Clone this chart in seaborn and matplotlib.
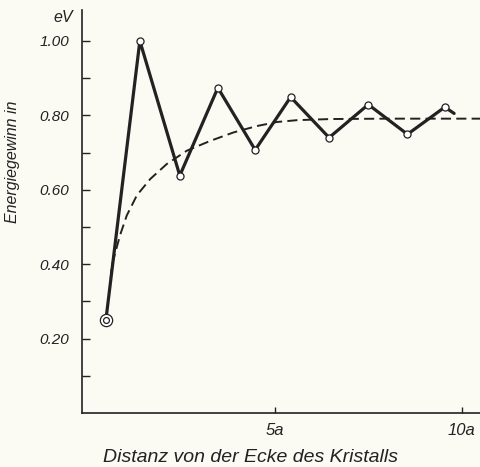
import numpy as np
import pandas as pd
import matplotlib
matplotlib.use("Agg")
import matplotlib.pyplot as plt
import seaborn as sns

# Zigzag data (distance in units of a, energy gain in eV)
dist = [0.47, 1.38, 2.45, 3.47, 4.47, 5.42, 6.45, 7.5, 8.55, 9.55, 9.8]
energy = [0.25, 1.00, 0.638, 0.874, 0.707, 0.849, 0.74, 0.829, 0.749, 0.822, 0.805]
# Dashed smooth curve
curve_x = [0.60, 0.63, 0.85, 1.03, 1.30, 1.66, 2.10, 2.64, 3.26, 3.89, 4.51,
           5.05, 5.6, 6.5, 8.0, 10.52]
curve_y = [0.36, 0.397, 0.478, 0.531, 0.585, 0.629, 0.669, 0.705, 0.731, 0.754,
           0.771, 0.782, 0.787, 0.79, 0.791, 0.791]

ytick_vals = [0.20, 0.40, 0.60, 0.80, 1.00]
ytick_labels = ["0.20", "0.40", "0.60", "0.80", "1.00"]
xtick_vals = [5, 10]
xtick_labels = ["5a", "10a"]

sns.set_theme(style="ticks")
plt.rcParams['font.family'] = ['Liberation Sans', 'DejaVu Sans']

bg = "#fbfaf3"
ink = "#222222"
fig = plt.figure(figsize=(4.81, 4.67), dpi=100, facecolor=bg)
ax = fig.add_axes([82/481, 54/467, (481-82)/481, 403/467], facecolor=bg)

df = pd.DataFrame({"x": dist, "y": energy})
dc = pd.DataFrame({"x": curve_x, "y": curve_y})

sns.lineplot(data=dc, x="x", y="y", ax=ax, color=ink, lw=1.4,
             linestyle=(0, (5.2, 2.7)), sort=False)
sns.lineplot(data=df, x="x", y="y", ax=ax, color=ink, lw=2.3, sort=False)
# open circles at the data points (except the final line end)
sns.scatterplot(x=dist[1:-1], y=energy[1:-1], ax=ax, s=26, facecolor="white",
                edgecolor=ink, linewidth=0.9, zorder=5)
# double circle at the corner point
sns.scatterplot(x=dist[:1], y=energy[:1], ax=ax, s=78, facecolor="white",
                edgecolor=ink, linewidth=0.9, zorder=5)
sns.scatterplot(x=dist[:1], y=energy[:1], ax=ax, s=18, facecolor="white",
                edgecolor=ink, linewidth=0.9, zorder=6)

ax.set_xlim(-0.17, 10.52)
ax.set_ylim(0.0, 1.083)
ax.set_yticks(ytick_vals)
ax.set_yticklabels(ytick_labels)
ax.set_yticks(np.arange(0.1, 1.0, 0.2), minor=True)
ax.set_xticks(xtick_vals)
ax.set_xticklabels(xtick_labels)

for s in ["top", "right"]:
    ax.spines[s].set_visible(False)
for s in ["left", "bottom"]:
    ax.spines[s].set_linewidth(1.2)
    ax.spines[s].set_color(ink)

ax.tick_params(axis="y", which="both", direction="in", length=6, width=1.0,
               colors=ink, pad=9, labelsize=11)
ax.tick_params(axis="x", which="both", direction="in", length=4, width=1.0,
               colors=ink, pad=7, labelsize=12)
for lab in ax.get_xticklabels() + ax.get_yticklabels():
    lab.set_fontstyle("italic")

ax.set_xlabel("")
ax.set_ylabel("")
fig.text(251/481, 1 - 457/467, "Distanz von der Ecke des Kristalls",
         fontsize=14, fontstyle="italic", color=ink, ha="center", va="center")
fig.text(13/481, 1 - 162/467, "Energiegewinn in", rotation=90, fontsize=11.5,
         fontstyle="italic", color=ink, ha="center", va="center")
fig.text(73/481, 1 - 17/467, "eV", fontsize=11.5, fontstyle="italic",
         color=ink, ha="right", va="center")

fig.savefig("out.png", dpi=100, facecolor=bg)
